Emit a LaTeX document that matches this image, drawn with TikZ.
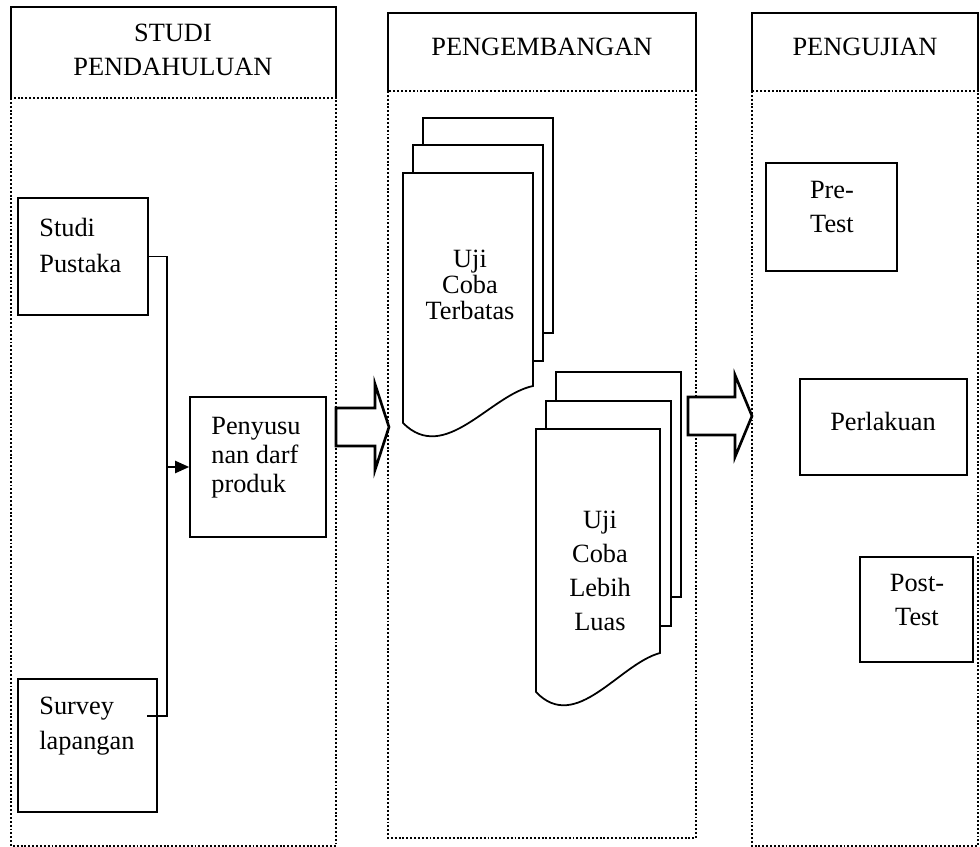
\documentclass[tikz,border=0pt]{standalone}
\usepackage{fontspec}
\setmainfont{Liberation Serif}
\usetikzlibrary{arrows.meta}

\tikzset{
  box/.style={draw, line width=1pt, fill=white, inner sep=0pt},
  wh/.style 2 args={minimum width=#1*0.02cm, minimum height=#2*0.02cm},
  txt/.style={inner sep=0pt, font=\fontsize{15}{#1}\selectfont},
  txt/.default=20,
  dots/.style={line width=1.3pt, dash pattern=on 1.1pt off 1.1pt},
  head/.style={line width=0.9pt},
  doc/.style={draw, line width=1pt, fill=white},
  bigarrow/.style={draw, line width=1.5pt, fill=white, line join=miter},
  link/.style={line width=0.9pt},
}

\begin{document}
\begin{tikzpicture}[x=0.02cm, y=-0.02cm]
    \useasboundingbox (0,0) rectangle (980,847);

    % kolom
    \draw[dots] (11,98) rectangle (336,846);
    \draw[head] (11,98) |- (336,7) -- (336,98);
    \draw[dots] (388,91) rectangle (696,838);
    \draw[head] (388,91) |- (696,13) -- (696,91);
    \draw[dots] (752,91) rectangle (978,846);
    \draw[head] (752,91) |- (978,13) -- (978,91);
    \node[txt=19.3, align=center] (studi) at (173,50) {STUDI\\PENDAHULUAN};
    \node[txt] (kembang) at (542,47) {PENGEMBANGAN};
    \node[txt] (pengujian) at (865,47) {PENGUJIAN};

    % studi pendahuluan
    \node[box, wh={130}{117}] (pustaka) at (83,256.5) {};
    \node[txt=20.5, align=left, anchor=west] (pustakatxt) at (39,245) {Studi\\Pustaka};
    \node[box, wh={139}{133}] (survey) at (87.5,745.5) {};
    \node[txt=19.5, align=left, anchor=west] (surveytxt) at (39,726) {Survey\\lapangan};
    \node[box, wh={136}{140}] (penyusun) at (258,467) {};
    \node[txt=16.5, align=left, anchor=west] (penyusuntxt) at (211,458) {Penyusu\\nan darf\\produk};

    \coordinate (bus) at (167,716);
    \coordinate (svy) at (147,716);
    \draw[link] (pustaka.east) -| (bus) -- (svy);
    \draw[link, -{Triangle[length=8pt, width=7pt]}] (bus |- penyusun.west) -- (penyusun.west);

    % pengembangan
    \draw[doc] (423,118) rectangle (553,333);
    \draw[doc] (413,145) rectangle (543,361);
    \draw[doc] (403,173) -- (533,173) -- (533,386) .. controls (490,395) and (445,465) .. (403,423) -- cycle;
    \node[txt=15, align=center] (terbatas) at (470,285) {Uji\\Coba\\Terbatas};

    \draw[doc] (556,372) rectangle (681,597);
    \draw[doc] (546,401) rectangle (671,626);
    \draw[doc] (536,429) -- (660,429) -- (660,653) .. controls (619,664) and (576,734) .. (536,692) -- cycle;
    \node[txt=19.4, align=center] (luas) at (600,571) {Uji\\Coba\\Lebih\\Luas};

    % pengujian
    \node[box, wh={131}{108}] (pretest) at (831.5,217) {};
    \node[txt=18.8, align=center] (pretesttxt) at (832,207) {Pre-\\Test};
    \node[box, wh={167}{96}] (perlakuan) at (883.5,427) {};
    \node[txt] (perlakuantxt) at (883,421) {Perlakuan};
    \node[box, wh={113}{105}] (posttest) at (916.5,609.5) {};
    \node[txt=19.9, align=center] (posttesttxt) at (917,600) {Post-\\Test};

    % panah besar
    \draw[bigarrow] (336,408) -- (375,408) -- (375,384) -- (389,427) -- (375,470) -- (375,446) -- (336,446) -- cycle;
    \draw[bigarrow] (688,397) -- (735,397) -- (735,375) -- (752,416) -- (735,457) -- (735,435) -- (688,435) -- cycle;
\end{tikzpicture}
\end{document}
